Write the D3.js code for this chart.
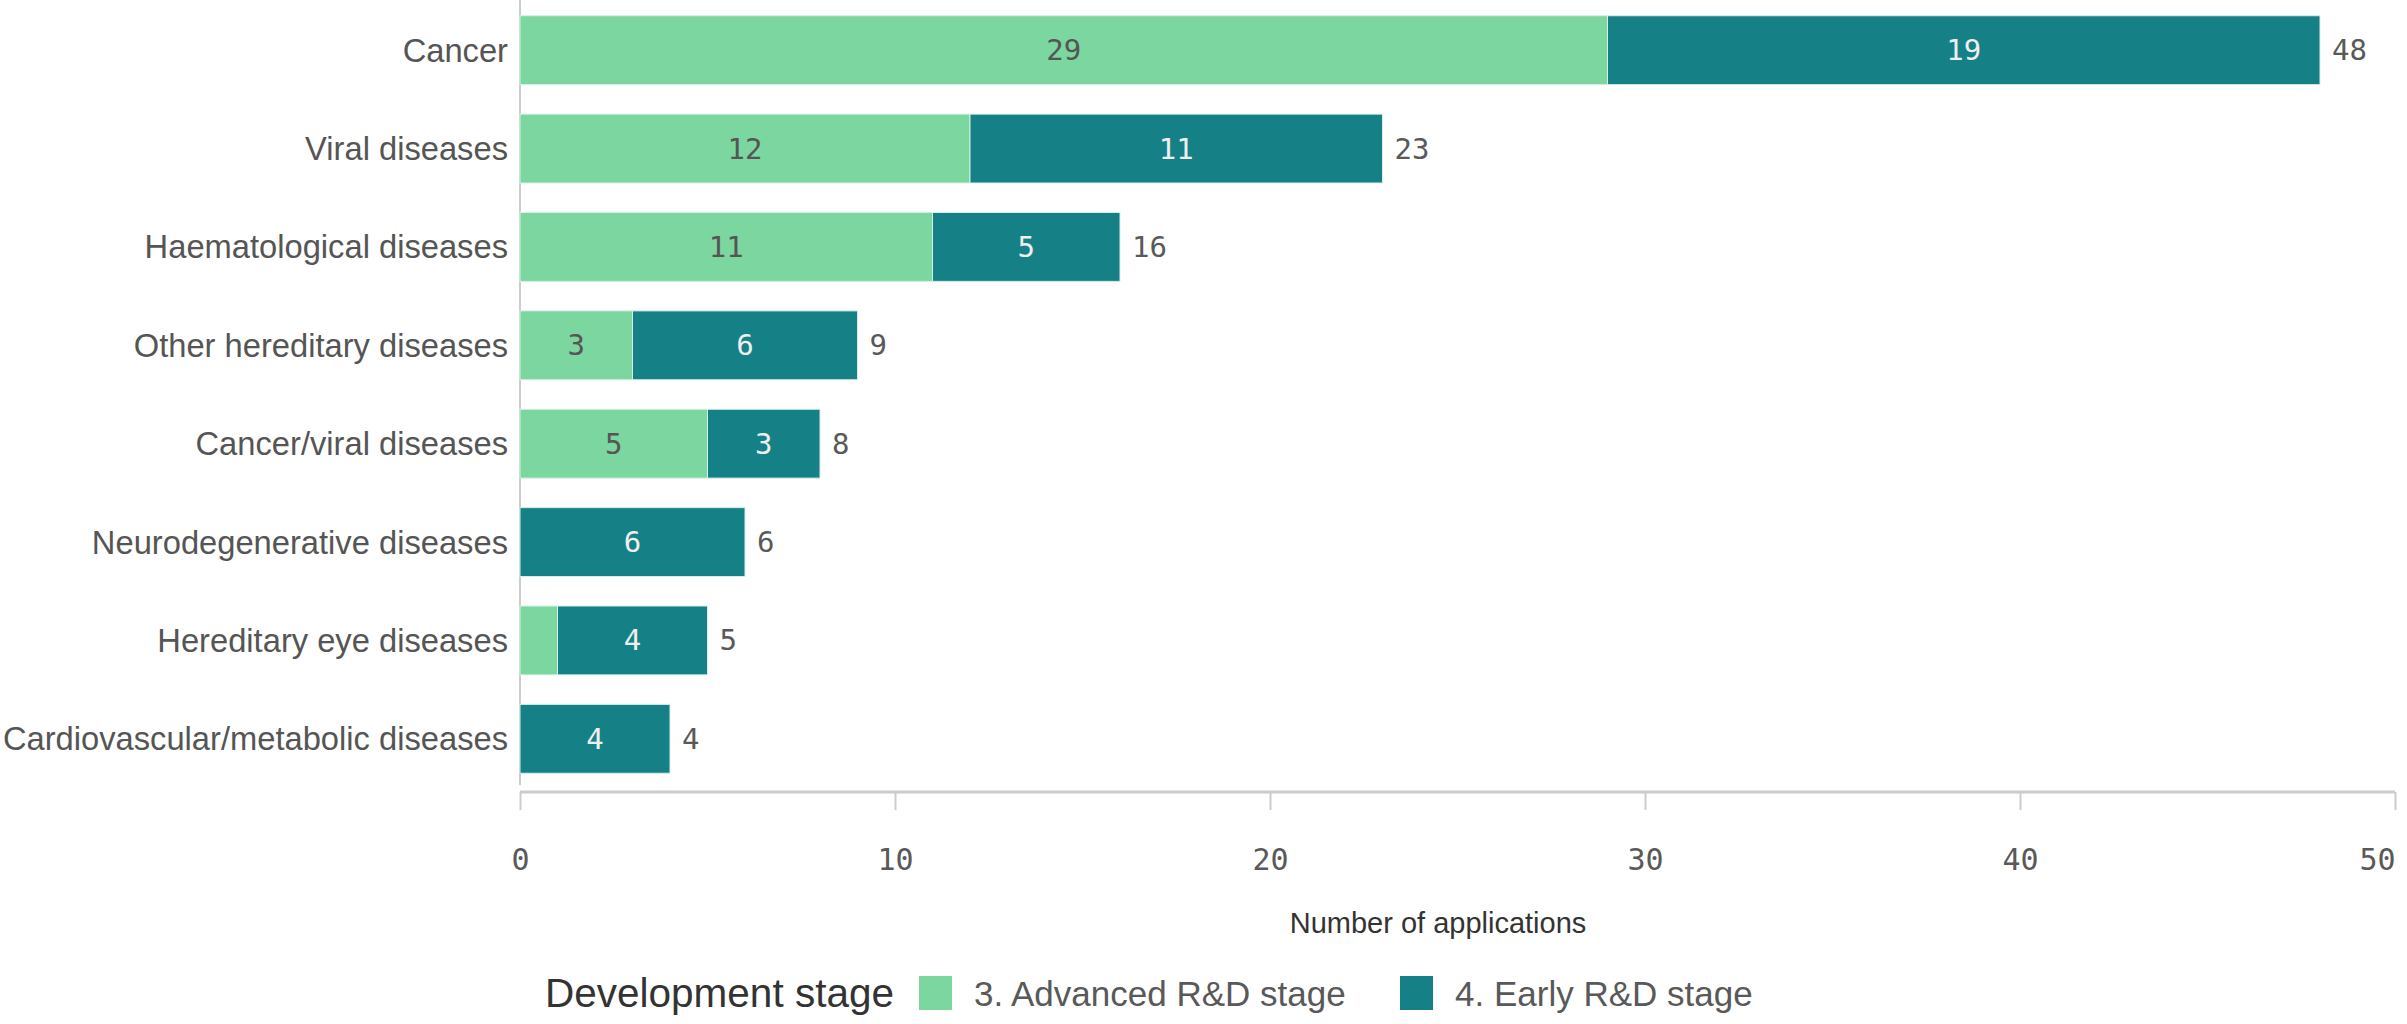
<!DOCTYPE html>
<html>
<head>
<meta charset="utf-8">
<script src="https://cdn.jsdelivr.net/npm/d3@7"></script>
<style>
  html, body { margin: 0; padding: 0; background: #ffffff; }
  svg { display: block; }
</style>
</head>
<body>
<svg id="chart" width="2407" height="1024"></svg>
<script>
// Applications by therapeutic area, split by development stage
const categories = [
  "Cancer",
  "Viral diseases",
  "Haematological diseases",
  "Other hereditary diseases",
  "Cancer/viral diseases",
  "Neurodegenerative diseases",
  "Hereditary eye diseases",
  "Cardiovascular/metabolic diseases"
];
const advancedStage = [29, 12, 11, 3, 5, 0, 1, 0];
const earlyStage = [19, 11, 5, 6, 3, 6, 4, 4];
const seriesNames = ["3. Advanced R&D stage", "4. Early R&D stage"];
const xTicks = [0, 10, 20, 30, 40, 50];

const colors = ["#7bd6a0", "#158186"];
const labelColors = ["#555555", "#eeeeee"];
const textFont = "'Liberation Sans', Arial, sans-serif";
const numFont = "'DejaVu Sans Mono', 'Liberation Mono', monospace";

const svg = d3.select("#chart");
const plot = { left: 520, right: 2395, top: 1, bottom: 788 };

const x = d3.scaleLinear().domain([0, 50]).range([plot.left, plot.right]);
const y = d3.scaleBand().domain(categories).range([plot.top, plot.bottom])
  .paddingInner(0.3).paddingOuter(0.15);

const rows = categories.map((c, i) => ({ category: c, a: advancedStage[i], e: earlyStage[i] }));
const stacked = d3.stack().keys(["a", "e"])(rows);

// Category axis line
svg.append("line")
  .attr("x1", plot.left).attr("x2", plot.left)
  .attr("y1", 0).attr("y2", 785)
  .attr("stroke", "#cccccc").attr("stroke-width", 2);

// Value axis
const xAxis = svg.append("g")
  .attr("transform", `translate(0,${792})`)
  .call(d3.axisBottom(x).tickValues(xTicks).tickSize(18).tickPadding(39));
xAxis.select(".domain").attr("stroke", "#cccccc").attr("stroke-width", 3)
  .attr("d", `M${plot.left},0H${plot.right}`);
xAxis.selectAll(".tick line").attr("stroke", "#cccccc").attr("stroke-width", 2);
xAxis.selectAll(".tick text")
  .attr("fill", "#595959")
  .style("font-family", numFont)
  .style("font-size", "30px")
  .attr("text-anchor", d => d === xTicks[xTicks.length - 1] ? "end" : "middle");

// Category labels
svg.append("g").selectAll("text").data(categories).join("text")
  .attr("x", plot.left - 12)
  .attr("y", d => y(d) + y.bandwidth() / 2)
  .attr("text-anchor", "end")
  .attr("dominant-baseline", "central")
  .attr("fill", "#555555")
  .style("font-family", textFont)
  .style("font-size", "32.7px")
  .text(d => d);

// Stacked bars
const layers = svg.append("g").selectAll("g").data(stacked).join("g")
  .attr("fill", (d, i) => colors[i]);

layers.selectAll("rect").data(d => d.filter(s => s[1] - s[0] > 0)).join("rect")
  .attr("x", d => x(d[0]))
  .attr("y", d => y(d.data.category))
  .attr("width", d => x(d[1]) - x(d[0]))
  .attr("height", y.bandwidth())
  .attr("stroke", "#d6efe8")
  .attr("stroke-width", 1);

// Segment labels (skipped when the segment is too narrow)
stacked.forEach((layer, i) => {
  svg.append("g").selectAll("text")
    .data(layer.filter(s => x(s[1]) - x(s[0]) > 60))
    .join("text")
    .attr("x", d => (x(d[0]) + x(d[1])) / 2)
    .attr("y", d => y(d.data.category) + y.bandwidth() / 2)
    .attr("text-anchor", "middle")
    .attr("dominant-baseline", "central")
    .attr("fill", labelColors[i])
    .style("font-family", numFont)
    .style("font-size", "29px")
    .text(d => d[1] - d[0]);
});

// Totals at bar ends
svg.append("g").selectAll("text").data(rows).join("text")
  .attr("x", d => x(d.a + d.e) + 12)
  .attr("y", d => y(d.category) + y.bandwidth() / 2)
  .attr("dominant-baseline", "central")
  .attr("fill", "#595959")
  .style("font-family", numFont)
  .style("font-size", "29px")
  .text(d => d.a + d.e);

// Axis title
svg.append("text")
  .attr("x", 1438).attr("y", 923)
  .attr("text-anchor", "middle")
  .attr("dominant-baseline", "central")
  .attr("fill", "#333333")
  .style("font-family", textFont)
  .style("font-size", "29px")
  .text("Number of applications");

// Legend
const legend = svg.append("g").attr("transform", "translate(0,993)");
legend.append("text")
  .attr("x", 545).attr("y", 0)
  .attr("dominant-baseline", "central")
  .attr("fill", "#333333")
  .style("font-family", textFont)
  .style("font-size", "40.5px")
  .text("Development stage");
const legendX = [919, 1400];
seriesNames.forEach((name, i) => {
  const g = legend.append("g").attr("transform", `translate(${legendX[i]},0)`);
  g.append("rect").attr("x", 0).attr("y", -17).attr("width", 33).attr("height", 34)
    .attr("fill", colors[i]);
  g.append("text").attr("x", 55).attr("y", 0)
    .attr("dominant-baseline", "central")
    .attr("fill", "#595959")
    .style("font-family", textFont)
    .style("font-size", "35px")
    .text(name);
});
</script>
</body>
</html>
